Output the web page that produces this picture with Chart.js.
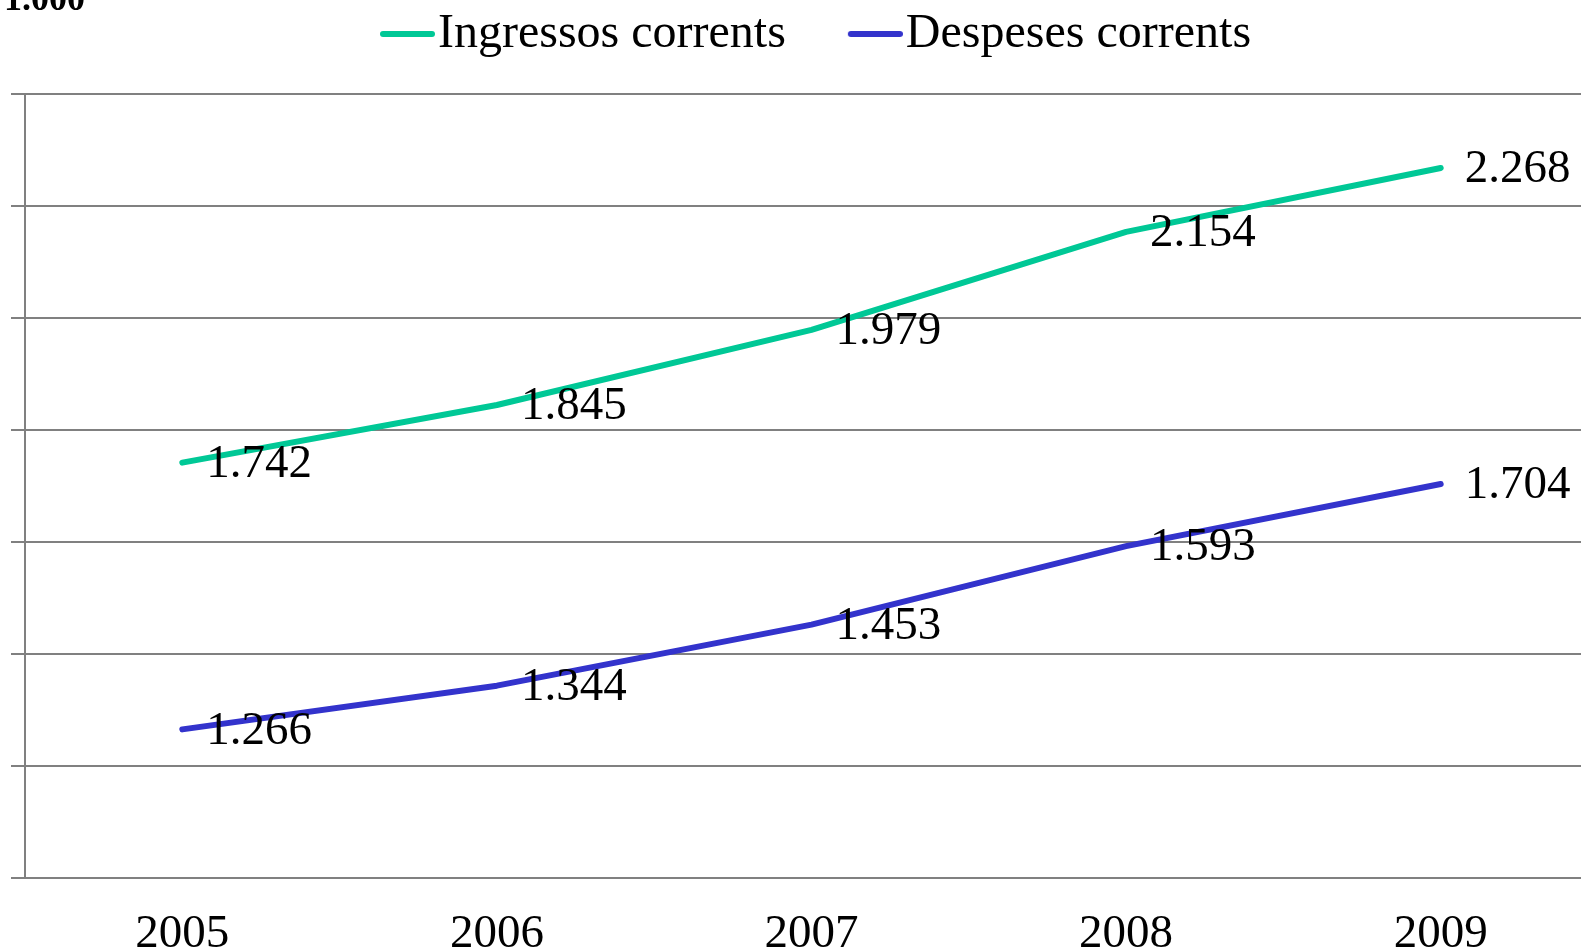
<!DOCTYPE html>
<html>
<head>
<meta charset="utf-8">
<script src="https://cdn.jsdelivr.net/npm/chart.js@4.4.1/dist/chart.umd.min.js"></script>
<style>
  html, body { margin: 0; padding: 0; background: #fff; overflow: hidden; }
  #wrap { position: absolute; left: 0; top: 0; width: 1600px; height: 990px; }
</style>
</head>
<body>
<div id="wrap"><canvas id="lineChart"></canvas></div>
<script>
// dades del gràfic
const years = ['2005', '2006', '2007', '2008', '2009'];
const ingressos = [1742, 1845, 1979, 2154, 2268];
const despeses = [1266, 1344, 1453, 1593, 1704];
const seriesNames = ['Ingressos corrents', 'Despeses corrents'];
const seriesColors = ['#00C896', '#3333CC'];
const unitLabel = '1.000';

const serif = "'Liberation Serif', 'Times New Roman', serif";

// mostra de línia per a la llegenda (enganxada al text, com a l'Excel)
function lineSwatch(color) {
    const c = document.createElement('canvas');
    c.width = 76;
    c.height = 12;
    const g = c.getContext('2d');
    g.strokeStyle = color;
    g.lineWidth = 6;
    g.lineCap = 'round';
    g.beginPath();
    g.moveTo(24, 6);
    g.lineTo(73, 6);
    g.stroke();
    return c;
}

// etiqueta de valor a la dreta de cada punt
const valueLabels = {
    id: 'valueLabels',
    afterDatasetsDraw(chart) {
        const ctx = chart.ctx;
        ctx.save();
        ctx.font = '47px ' + serif;
        ctx.fillStyle = '#000';
        ctx.textAlign = 'left';
        ctx.textBaseline = 'middle';
        chart.data.datasets.forEach(function(ds, i) {
            chart.getDatasetMeta(i).data.forEach(function(pt, j) {
                ctx.fillText(ds.data[j].toLocaleString('de-DE'), pt.x + 24, pt.y + 2);
            });
        });
        ctx.restore();
    },
    afterDraw(chart) {
        // text de la unitat, retallat a dalt
        const ctx = chart.ctx;
        ctx.save();
        ctx.font = 'bold 36px ' + serif;
        ctx.fillStyle = '#000';
        ctx.textBaseline = 'alphabetic';
        ctx.fillText(unitLabel, 4, 10);
        ctx.restore();
    }
};

// més espai sota la llegenda i una mica desplaçada a la dreta
const legendSpace = {
    id: 'legendSpace',
    beforeInit(chart) {
        const lg = chart.legend;
        const fitOrig = lg.fit;
        lg.fit = function() {
            fitOrig.bind(lg)();
            this.height += 26;
        };
        const drawOrig = lg.draw;
        lg.draw = function() {
            const c = chart.ctx;
            c.save();
            c.translate(11, 0);
            drawOrig.apply(lg, arguments);
            c.restore();
        };
    }
};

const ctx = document.getElementById('lineChart').getContext('2d');
new Chart(ctx, {
    type: 'line',
    data: {
        labels: years,
        datasets: [{
            label: seriesNames[0],
            data: ingressos,
            borderColor: seriesColors[0],
            backgroundColor: seriesColors[0],
            pointStyle: lineSwatch(seriesColors[0]),
            borderWidth: 6,
            borderCapStyle: 'round',
            borderJoinStyle: 'round',
            pointRadius: 0,
            tension: 0
        }, {
            label: seriesNames[1],
            data: despeses,
            borderColor: seriesColors[1],
            backgroundColor: seriesColors[1],
            pointStyle: lineSwatch(seriesColors[1]),
            borderWidth: 6,
            borderCapStyle: 'round',
            borderJoinStyle: 'round',
            pointRadius: 0,
            tension: 0
        }]
    },
    options: {
        responsive: true,
        maintainAspectRatio: false,
        animation: false,
        layout: { padding: { left: 11, right: 2, top: -52, bottom: 0 } },
        plugins: {
            legend: {
                position: 'top',
                labels: {
                    usePointStyle: true,
                    pointStyleWidth: 34,
                    padding: 62,
                    color: '#000',
                    font: { family: serif, size: 48 }
                }
            },
            tooltip: { enabled: false }
        },
        scales: {
            x: {
                offset: true,
                grid: { display: false, drawTicks: false },
                border: { display: false },
                ticks: {
                    color: '#000',
                    padding: 37,
                    font: { family: serif, size: 47, lineHeight: 0.8 }
                }
            },
            y: {
                min: 1000,
                max: 2400,
                ticks: { display: false, stepSize: 200 },
                grid: { color: '#808080', lineWidth: 2, tickLength: 14, drawTicks: true },
                border: { display: true, color: '#808080', width: 2 }
            }
        }
    },
    plugins: [valueLabels, legendSpace]
});
</script>
</body>
</html>
